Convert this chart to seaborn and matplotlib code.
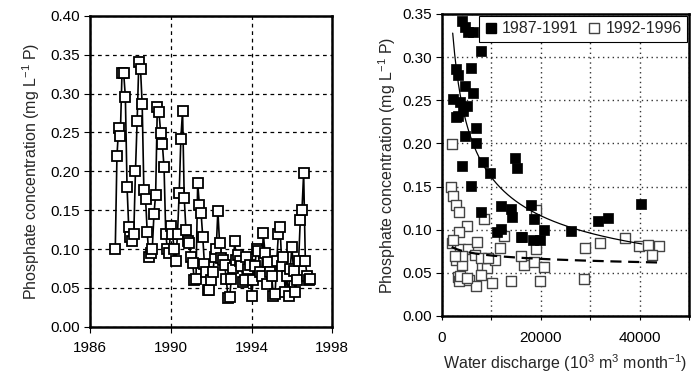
import numpy as np
import pandas as pd
import matplotlib
matplotlib.use("Agg")
import matplotlib.pyplot as plt
import seaborn as sns
from matplotlib.lines import Line2D

# ---------------- data ----------------
start_year = 1987
start_month = 4  # April 1987
phos_monthly = [
    # 1987 Apr-Dec
    0.100, 0.220, 0.256, 0.246, 0.327, 0.326, 0.296, 0.180, 0.128,
    # 1988
    0.115, 0.110, 0.120, 0.200, 0.265, 0.340, 0.332, 0.286, 0.176, 0.165, 0.122, 0.090,
    # 1989
    0.095, 0.100, 0.145, 0.170, 0.283, 0.276, 0.249, 0.235, 0.205, 0.120, 0.100, 0.095,
    # 1990
    0.130, 0.120, 0.100, 0.085, 0.120, 0.172, 0.242, 0.278, 0.166, 0.125, 0.110, 0.108,
    # 1991
    0.090, 0.082, 0.060, 0.062, 0.185, 0.157, 0.147, 0.116, 0.081, 0.070, 0.047, 0.048,
    # 1992
    0.060, 0.070, 0.090, 0.100, 0.149, 0.108, 0.088, 0.086, 0.080, 0.062, 0.037, 0.038,
    # 1993
    0.062, 0.076, 0.110, 0.086, 0.092, 0.085, 0.078, 0.058, 0.060, 0.090, 0.075, 0.080,
    # 1994
    0.040, 0.060, 0.078, 0.100, 0.097, 0.070, 0.065, 0.121, 0.095, 0.055, 0.083, 0.070,
    # 1995
    0.065, 0.040, 0.042, 0.085, 0.120, 0.128, 0.078, 0.090, 0.045, 0.065, 0.040, 0.075,
    # 1996
    0.103, 0.072, 0.045, 0.060, 0.085, 0.138, 0.150, 0.198, 0.085, 0.065, 0.060, 0.062,
]

# right panel: discharge (10^3 m3/month) vs phosphate
dis_8791 = [3980, 4650, 5250, 6260, 8010, 6000, 2830, 3230, 4650, 6260, 2220, 3640,
            5000, 4240, 3230, 2830, 7000, 4650, 6870, 8290, 9700, 4180, 14750, 15150,
            6000, 8010, 12060, 14080, 14280, 11110, 12060, 16100, 18120, 18590, 16300,
            18390, 19800, 20610, 26200, 31510, 33540, 40340]
p_8791 = [0.342, 0.335, 0.329, 0.329, 0.307, 0.287, 0.286, 0.279, 0.267, 0.258, 0.251, 0.248,
          0.243, 0.238, 0.232, 0.230, 0.218, 0.208, 0.201, 0.178, 0.166, 0.174, 0.183, 0.172,
          0.151, 0.121, 0.127, 0.124, 0.115, 0.097, 0.101, 0.091, 0.129, 0.112, 0.091,
          0.088, 0.0875, 0.100, 0.099, 0.110, 0.113, 0.130]

dis_9296 = [1960, 1820, 2290, 2830, 3500, 8480, 5000, 3500, 12530, 2090, 3640, 5320,
            7140, 6670, 2830, 4110, 8150, 9160, 7880, 3300, 3500, 5520, 6870, 10170,
            14080, 19940, 28690, 10710, 16570, 18590, 20610, 19130, 11860, 18990,
            28890, 31920, 36970, 39860, 41680, 43900, 42560, 4180, 2630, 8010, 9300,
            3640, 5050, 2220, 16100]
p_9296 = [0.199, 0.150, 0.139, 0.129, 0.120, 0.112, 0.104, 0.097, 0.093, 0.085, 0.078, 0.078,
          0.0855, 0.071, 0.065, 0.059, 0.059, 0.056, 0.0477, 0.0453, 0.040, 0.042, 0.035, 0.038,
          0.040, 0.041, 0.0427, 0.065, 0.059, 0.062, 0.057, 0.077, 0.079, 0.123,
          0.079, 0.085, 0.090, 0.0806, 0.0826, 0.0814, 0.071, 0.069, 0.069, 0.067, 0.067,
          0.0457, 0.044, 0.0885, 0.069]

# ---------------- style ----------------
sns.set_theme(style="white")
plt.rcParams["font.family"] = ["Liberation Sans", "DejaVu Sans"]
plt.rcParams["mathtext.fontset"] = "custom"
plt.rcParams["mathtext.rm"] = "Liberation Sans"
plt.rcParams["mathtext.it"] = "Liberation Sans"

fig = plt.figure(figsize=(6.98, 3.77), dpi=100)
axL = fig.add_axes([0.129, 0.133, 0.347, 0.825])
axR = fig.add_axes([0.633, 0.162, 0.354, 0.801])

fs = 11
ylab = "Phosphate concentration (mg L$^{-1}$ P)"

# ---------------- left panel ----------------
n = len(phos_monthly)
month_idx = np.arange(n)
years = start_year + (start_month - 1 + month_idx) / 12.0
dfL = pd.DataFrame({"year": years, "P": phos_monthly})
sns.lineplot(data=dfL, x="year", y="P", ax=axL, color="black", lw=1.2,
             marker="s", markersize=7, markerfacecolor="white",
             markeredgecolor="black", markeredgewidth=1.3, zorder=3)
axL.set_xlim(1986, 1998)
axL.set_ylim(0, 0.40)
axL.set_xticks([1986, 1990, 1994, 1998])
axL.set_yticks(np.arange(0, 0.401, 0.05))
axL.set_yticklabels([f"{v:.2f}" for v in np.arange(0, 0.401, 0.05)])
axL.grid(True, color="black", lw=0.9, ls=(0, (3, 3)))
axL.set_xlabel("")
axL.set_ylabel(ylab, fontsize=11.5, labelpad=6)

# ---------------- right panel ----------------
dfA = pd.DataFrame({"Q": dis_8791, "P": p_8791})
dfB = pd.DataFrame({"Q": dis_9296, "P": p_9296})
sns.scatterplot(data=dfB, x="Q", y="P", ax=axR, marker="s", s=48,
                facecolor="white", edgecolor="#444444", linewidth=1.0, zorder=3)
sns.scatterplot(data=dfA, x="Q", y="P", ax=axR, marker="s", s=55,
                color="black", edgecolor="black", linewidth=0.5, zorder=4)

# power-law trend lines fitted to each period
bA, aA = np.polyfit(np.log(dis_8791), np.log(p_8791), 1)
xa = np.linspace(2200, 40500, 200)
axR.plot(xa, np.exp(aA) * xa ** bA, color="black", lw=0.9, zorder=5)
bB, aB = np.polyfit(np.log(dis_9296), np.log(p_9296), 1)
xb = np.linspace(2000, 44500, 200)
axR.plot(xb, np.exp(aB) * xb ** bB, color="black", lw=1.6, ls=(0, (5, 3)), zorder=5)

axR.set_xlim(0, 50000)
axR.set_ylim(0, 0.35)
axR.set_xticks(np.arange(0, 50001, 10000))
axR.set_xticklabels(["0", "", "20000", "", "40000", ""])
axR.set_yticks(np.arange(0, 0.351, 0.05))
axR.set_yticklabels([f"{v:.2f}" for v in np.arange(0, 0.351, 0.05)])
axR.grid(True, color="#333333", lw=1.0, ls=(0, (1, 2.5)))
axR.set_ylabel(ylab, fontsize=11.5, labelpad=3)
axR.set_xlabel("Water discharge (10$^3$ m$^3$ month$^{-1}$)", fontsize=11.5, labelpad=5)

handles = [Line2D([], [], marker="s", ls="none", color="black", markersize=6.5),
           Line2D([], [], marker="s", ls="none", markerfacecolor="white",
                  markeredgecolor="#444444", markersize=6.5)]
leg = axR.legend(handles, ["1987-1991", "1992-1996"], ncol=2, loc="upper right",
                 bbox_to_anchor=(1.0, 1.0), fontsize=11.5, frameon=True, fancybox=False,
                 edgecolor="black", framealpha=1, handlelength=0.8, handletextpad=0.3,
                 columnspacing=0.6, borderpad=0.35, borderaxespad=0.1)
leg.get_frame().set_linewidth(0.8)

for ax in (axL, axR):
    for sp in ax.spines.values():
        sp.set_visible(True)
        sp.set_color("black")
        sp.set_linewidth(1.8)
    ax.tick_params(axis="both", direction="out", length=4, width=0.8,
                   color="black", labelsize=fs, labelcolor="black", pad=3,
                   bottom=True, left=True)
    ax.set_axisbelow(True)

axL.tick_params(axis="x", pad=6)
axR.tick_params(axis="x", pad=8, length=3)

fig.savefig("out.png", dpi=100)
